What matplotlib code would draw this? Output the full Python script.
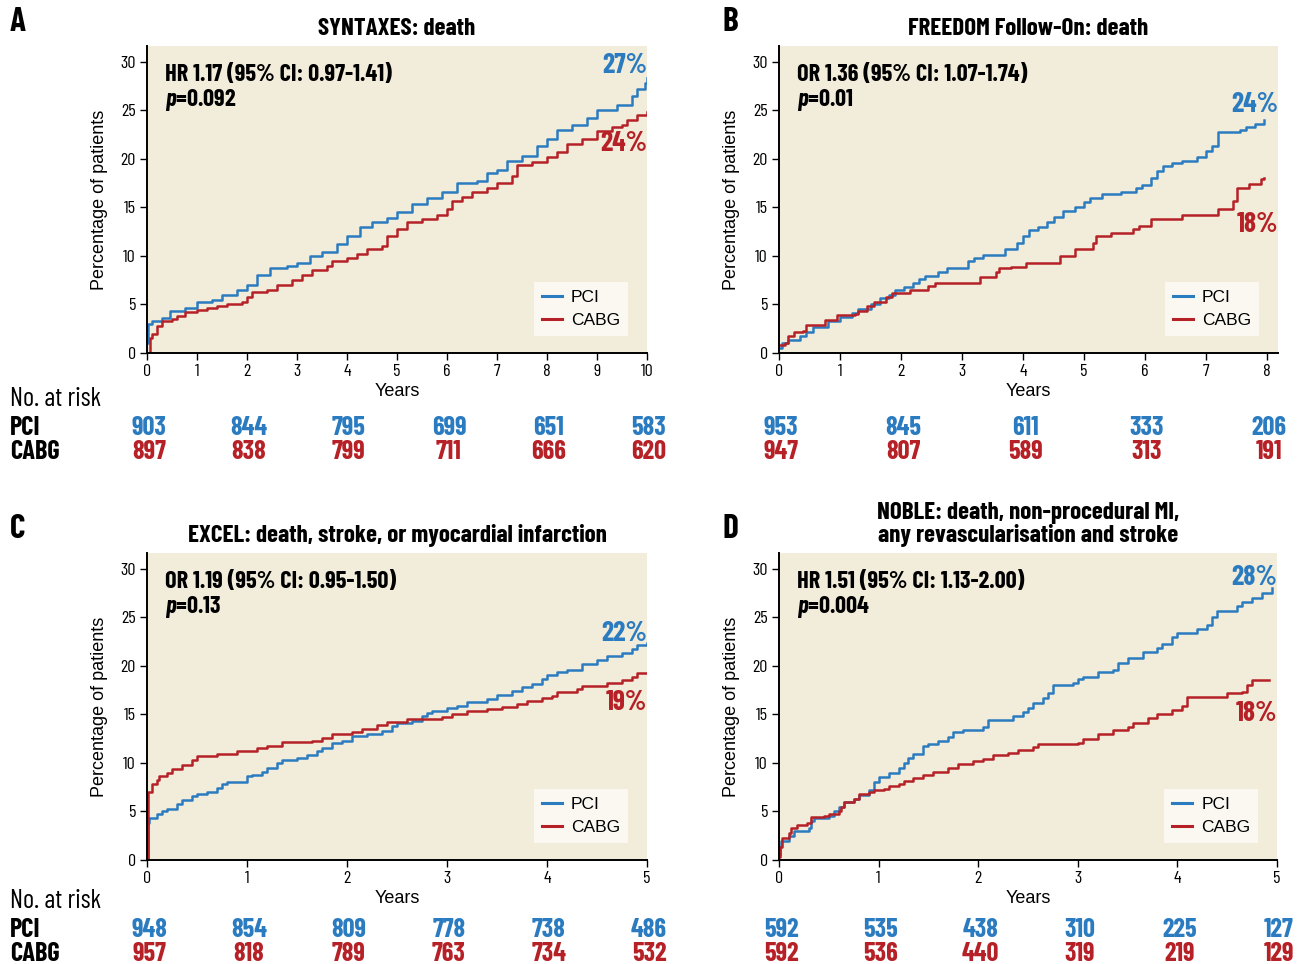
import matplotlib
matplotlib.use('Agg')
from matplotlib import pyplot as plt
from matplotlib.transforms import blended_transform_factory

# ---------- data ----------
# Panel A: SYNTAXES, death, 10 years
a_pci_t = [0, 0.02, 0.1, 0.3, 0.45, 0.75, 1.0, 1.3, 1.5, 1.8, 2.0, 2.2, 2.45, 2.8, 3.0, 3.25, 3.5, 3.8, 4.0,
           4.25, 4.5, 4.8, 5.0, 5.3, 5.6, 5.9, 6.2, 6.6, 6.8, 7.0, 7.2, 7.5, 7.8, 8.0, 8.2, 8.5, 8.8, 9.0,
           9.4, 9.7, 9.8, 9.95, 10.0]
a_pci_y = [1.0, 3.0, 3.3, 3.6, 4.3, 4.6, 5.3, 5.5, 6.0, 6.5, 7.0, 8.0, 8.8, 9.0, 9.3, 10.0, 10.4, 11.2, 12.0,
           13.0, 13.5, 13.9, 14.5, 15.3, 16.0, 16.6, 17.5, 17.7, 18.5, 18.8, 19.8, 20.3, 21.3, 22.0, 23.0, 23.5,
           24.2, 25.0, 25.5, 26.5, 27.2, 27.8, 28.3]
a_cabg_t = [0, 0.05, 0.1, 0.2, 0.3, 0.5, 0.6, 0.75, 1.0, 1.2, 1.4, 1.6, 1.9, 2.0, 2.1, 2.4, 2.6, 2.9, 3.1,
            3.3, 3.6, 3.7, 4.0, 4.2, 4.4, 4.7, 4.8, 5.0, 5.2, 5.5, 5.8, 6.0, 6.1, 6.3, 6.5, 6.8, 7.0, 7.3,
            7.4, 7.7, 8.0, 8.2, 8.4, 8.7, 9.0, 9.3, 9.5, 9.6, 9.8, 10.0]
a_cabg_y = [0, 1.5, 2.0, 2.8, 3.3, 3.5, 3.8, 4.2, 4.4, 4.6, 4.8, 5.0, 5.3, 5.8, 6.3, 6.5, 7.0, 7.5, 8.0,
            8.5, 9.0, 9.5, 9.8, 10.2, 10.7, 11.0, 12.0, 12.8, 13.5, 13.8, 14.2, 14.8, 15.6, 16.1, 16.6, 17.0,
            17.5, 18.2, 19.3, 19.7, 20.2, 20.7, 21.5, 22.0, 22.8, 23.3, 23.5, 24.0, 24.5, 24.8]

# Panel B: FREEDOM Follow-On, death, 8 years
b_pci_t = [0, 0.05, 0.15, 0.35, 0.45, 0.55, 0.8, 1.0, 1.2, 1.3, 1.5, 1.65, 1.8, 1.9, 2.05, 2.2, 2.3, 2.4,
           2.6, 2.75, 3.1, 3.2, 3.35, 3.7, 3.9, 4.0, 4.1, 4.25, 4.4, 4.5, 4.65, 4.85, 5.0, 5.1, 5.3, 5.6,
           5.85, 5.95, 6.1, 6.2, 6.3, 6.45, 6.6, 6.85, 7.0, 7.1, 7.2, 7.55, 7.65, 7.8, 7.95]
b_pci_y = [0.5, 1.0, 1.3, 1.8, 2.2, 2.7, 3.3, 3.7, 4.1, 4.5, 5.0, 5.7, 6.0, 6.5, 6.8, 7.2, 7.6, 7.9,
           8.3, 8.8, 9.5, 9.8, 10.1, 10.7, 11.3, 12.0, 12.7, 13.0, 13.5, 14.0, 14.6, 15.0, 15.5, 16.0, 16.4,
           16.6, 17.0, 17.3, 18.0, 18.7, 19.2, 19.6, 19.8, 20.2, 20.8, 21.3, 22.7, 23.0, 23.3, 23.6, 24.0]
b_cabg_t = [0, 0.1, 0.15, 0.25, 0.4, 0.45, 0.75, 0.95, 1.25, 1.3, 1.45, 1.55, 1.75, 1.85, 2.15, 2.45,
            2.55, 3.3, 3.55, 3.6, 3.8, 4.05, 4.6, 4.85, 5.15, 5.2, 5.45, 5.8, 5.9, 6.1, 6.6, 7.2, 7.45,
            7.5, 7.7, 7.9, 7.95]
b_cabg_y = [0.8, 1.0, 1.8, 2.2, 2.3, 2.9, 3.4, 3.9, 4.0, 4.3, 4.8, 5.2, 5.8, 6.2, 6.5, 6.9,
            7.2, 7.8, 8.3, 8.7, 8.9, 9.3, 10.0, 10.7, 11.3, 12.0, 12.4, 12.8, 13.1, 13.8, 14.2, 14.8, 15.6,
            17.0, 17.4, 17.9, 18.0]

# Panel C: EXCEL, death/stroke/MI, 5 years
c_pci_t = [0, 0.005, 0.02, 0.1, 0.15, 0.2, 0.3, 0.35, 0.45, 0.5, 0.6, 0.7, 0.75, 0.8, 1.0, 1.05, 1.15,
           1.2, 1.3, 1.35, 1.5, 1.6, 1.7, 1.75, 1.85, 1.95, 2.05, 2.2, 2.35, 2.45, 2.5, 2.65, 2.75, 2.8,
           2.85, 3.0, 3.1, 3.2, 3.4, 3.5, 3.65, 3.75, 3.85, 3.95, 4.0, 4.1, 4.2, 4.35, 4.5, 4.6, 4.75,
           4.85, 4.9, 5.0]
c_pci_y = [0, 3.8, 4.3, 4.7, 5.0, 5.3, 5.8, 6.2, 6.6, 6.8, 7.0, 7.4, 7.8, 8.0, 8.6, 8.8, 9.1,
           9.5, 10.0, 10.3, 10.5, 10.8, 11.2, 11.5, 12.0, 12.3, 12.8, 13.0, 13.3, 13.8, 14.1, 14.3, 14.8, 15.1,
           15.3, 15.6, 15.9, 16.3, 16.6, 17.0, 17.4, 17.8, 18.1, 18.6, 19.0, 19.3, 19.6, 20.2, 20.6, 21.0, 21.3,
           21.7, 22.1, 22.3]
c_cabg_t = [0, 0.005, 0.05, 0.1, 0.12, 0.2, 0.25, 0.35, 0.45, 0.5, 0.7, 0.9, 1.1, 1.2, 1.35, 1.65, 1.75,
            1.85, 2.05, 2.15, 2.3, 2.4, 2.6, 2.95, 3.05, 3.2, 3.4, 3.55, 3.7, 3.8, 3.95, 4.05, 4.1, 4.3,
            4.35, 4.6, 4.75, 4.85, 4.9, 5.0]
c_cabg_y = [0, 7.0, 7.8, 8.2, 8.6, 9.0, 9.4, 9.8, 10.3, 10.7, 10.9, 11.2, 11.5, 11.7, 12.1, 12.3, 12.6,
            13.0, 13.2, 13.5, 13.9, 14.2, 14.5, 14.7, 15.0, 15.3, 15.5, 15.8, 16.1, 16.4, 16.7, 16.9, 17.3, 17.6,
            17.9, 18.2, 18.5, 18.8, 19.2, 19.2]

# Panel D: NOBLE, MACCE, 5 years
d_pci_t = [0, 0.01, 0.02, 0.1, 0.15, 0.3, 0.32, 0.35, 0.5, 0.55, 0.6, 0.65, 0.75, 0.8, 0.9, 0.95, 1.0,
           1.1, 1.2, 1.25, 1.3, 1.35, 1.45, 1.5, 1.6, 1.7, 1.75, 1.85, 2.05, 2.1, 2.35, 2.45, 2.5, 2.55,
           2.65, 2.7, 2.75, 2.95, 3.0, 3.05, 3.2, 3.35, 3.4, 3.5, 3.65, 3.8, 3.85, 3.95, 4.0, 4.2, 4.3,
           4.35, 4.4, 4.6, 4.65, 4.75, 4.85, 4.95]
d_pci_y = [0.5, 1.3, 2.0, 2.5, 3.0, 3.3, 4.0, 4.3, 4.5, 5.0, 5.5, 6.0, 6.3, 6.7, 7.2, 8.0, 8.5,
           9.0, 9.5, 10.0, 10.5, 10.9, 11.7, 11.9, 12.3, 12.7, 13.2, 13.4, 13.7, 14.4, 14.8, 15.2, 15.6, 16.2,
           16.7, 17.2, 18.0, 18.2, 18.6, 18.8, 19.3, 19.6, 20.3, 20.8, 21.4, 21.8, 22.2, 23.0, 23.4, 23.8, 24.2,
           25.0, 25.6, 26.1, 26.6, 27.0, 27.5, 28.0]
d_cabg_t = [0, 0.01, 0.03, 0.1, 0.12, 0.18, 0.28, 0.32, 0.45, 0.5, 0.6, 0.62, 0.65, 0.75, 0.8, 0.9, 0.95,
            1.05, 1.1, 1.2, 1.25, 1.35, 1.45, 1.55, 1.7, 1.8, 1.95, 2.05, 2.15, 2.3, 2.4, 2.55, 2.6, 3.0,
            3.05, 3.2, 3.35, 3.5, 3.55, 3.7, 3.8, 3.95, 4.05, 4.1, 4.5, 4.65, 4.7, 4.75, 4.92]
d_cabg_y = [0.3, 1.3, 2.3, 2.8, 3.3, 3.6, 3.8, 4.4, 4.5, 4.7, 5.0, 5.5, 6.0, 6.3, 6.8, 7.0, 7.2,
            7.3, 7.6, 7.8, 8.1, 8.4, 8.8, 9.1, 9.5, 9.9, 10.2, 10.4, 10.8, 11.0, 11.3, 11.6, 11.9, 12.0,
            12.5, 13.0, 13.4, 13.7, 14.1, 14.6, 15.0, 15.4, 15.9, 16.8, 17.2, 17.3, 18.0, 18.5, 18.5]

letters = ['A', 'B', 'C', 'D']
titles = ['SYNTAXES: death', 'FREEDOM Follow-On: death',
          'EXCEL: death, stroke, or myocardial infarction',
          'NOBLE: death, non-procedural MI,\nany revascularisation and stroke']
stats = ['HR 1.17 (95% CI: 0.97-1.41)', 'OR 1.36 (95% CI: 1.07-1.74)',
         'OR 1.19 (95% CI: 0.95-1.50)', 'HR 1.51 (95% CI: 1.13-2.00)']
pvals = ['0.092', '0.01', '0.13', '0.004']
end_pci = ['27%', '24%', '22%', '28%']
end_cabg = ['24%', '18%', '19%', '18%']
end_pci_y = [29.6, 25.6, 23.3, 29.1]
end_cabg_y = [21.6, 13.2, 16.2, 15.1]
xmax = [10, 8.18, 5, 5]
xticks = [range(0, 11), range(0, 9), range(0, 6), range(0, 6)]
risk_t = [[0, 2, 4, 6, 8, 10], [0, 2, 4, 6, 8], [0, 1, 2, 3, 4, 5], [0, 1, 2, 3, 4, 5]]
risk_pci = [[903, 844, 795, 699, 651, 583], [953, 845, 611, 333, 206],
            [948, 854, 809, 778, 738, 486], [592, 535, 438, 310, 225, 127]]
risk_cabg = [[897, 838, 799, 711, 666, 620], [947, 807, 589, 313, 191],
             [957, 818, 789, 763, 734, 532], [592, 536, 440, 319, 219, 129]]
curves = [(a_pci_t, a_pci_y, a_cabg_t, a_cabg_y), (b_pci_t, b_pci_y, b_cabg_t, b_cabg_y),
          (c_pci_t, c_pci_y, c_cabg_t, c_cabg_y), (d_pci_t, d_pci_y, d_cabg_t, d_cabg_y)]

# ---------- style ----------
NARROW = ['Barlow Condensed', 'Roboto Condensed', 'Archivo Narrow', 'DejaVu Sans']
REG = ['Arimo', 'Liberation Sans', 'DejaVu Sans']
BLUE = '#2b7bc0'
RED = '#b52126'
BEIGE = '#f2eddb'
plt.rcParams['font.family'] = NARROW
plt.rcParams['mathtext.fontset'] = 'custom'
plt.rcParams['mathtext.it'] = 'Barlow Condensed:italic:bold'
plt.rcParams['mathtext.rm'] = 'Barlow Condensed:bold'

W, H = 1304, 964
fig = plt.figure(figsize=(W / 100, H / 100), dpi=100)

# axes boxes in pixels: left, top, right, bottom
boxes = [(147, 46, 647, 353), (779, 46, 1278, 353), (147, 553, 647, 860), (779, 553, 1277, 860)]

for i in range(4):
    l, t, r, b = boxes[i]
    ax = fig.add_axes([l / W, 1 - b / H, (r - l) / W, (b - t) / H])
    ax.set_facecolor(BEIGE)
    pt, py, ct, cy = curves[i]
    ax.plot(pt, py, drawstyle='steps-post', color=BLUE, lw=1.8, label='PCI')
    ax.plot(ct, cy, drawstyle='steps-post', color=RED, lw=1.8, label='CABG')
    ax.set_xlim(0, xmax[i])
    ax.set_ylim(0, 31.6)
    ax.set_xticks(list(xticks[i]))
    ax.set_yticks([0, 5, 10, 15, 20, 25, 30])
    for s in ['top', 'right']:
        ax.spines[s].set_visible(False)
    for s in ['left', 'bottom']:
        ax.spines[s].set_linewidth(1.4)
    ax.tick_params(direction='out', length=5, width=1, labelsize=13, pad=3)
    ax.set_ylabel('Percentage of patients', family=REG, fontsize=13, labelpad=9)
    ax.set_xlabel('Years', family=REG, fontsize=13, labelpad=3)
    ax.set_title(titles[i], fontsize=18, fontweight='bold', pad=8, linespacing=1.0)

    ax.text(0.036, 0.94, stats[i], transform=ax.transAxes, fontsize=17.5, fontweight='bold',
            va='top', ha='left')
    ax.text(0.036, 0.868, r'$p$=' + pvals[i], transform=ax.transAxes, fontsize=17.5, fontweight='bold',
            va='top', ha='left')
    ax.text(1.0, end_pci_y[i], end_pci[i], transform=blended_transform_factory(ax.transAxes, ax.transData),
            color=BLUE, fontsize=20, fontweight='bold', ha='right', va='center')
    ax.text(1.0, end_cabg_y[i], end_cabg[i], transform=blended_transform_factory(ax.transAxes, ax.transData),
            color=RED, fontsize=20, fontweight='bold', ha='right', va='center')

    leg = ax.legend(loc='lower right', bbox_to_anchor=(0.962, 0.055), frameon=True, fancybox=False,
                    prop={'family': REG, 'size': 12.5}, handlelength=1.2, handletextpad=0.5,
                    borderpad=0.45, labelspacing=0.45, borderaxespad=0)
    leg.get_frame().set_facecolor('#faf8f1')
    leg.get_frame().set_edgecolor('none')
    leg.get_frame().set_alpha(1)
    for ln in leg.get_lines():
        ln.set_linewidth(2.2)

    # panel letter
    fig.text((10 if i % 2 == 0 else 722) / W, 1 - (22 if i < 2 else 529) / H, letters[i],
             fontsize=24, fontweight='bold', va='center', ha='left')

    # numbers at risk
    tr = blended_transform_factory(ax.transData, fig.transFigure)
    row_pci = 428 if i < 2 else 930
    row_cabg = 452 if i < 2 else 954
    for x, n in zip(risk_t[i], risk_pci[i]):
        ax.text(x + 0.004 * xmax[i], 1 - row_pci / H, str(n), transform=tr, color=BLUE, fontsize=19,
                fontweight='bold', ha='center', va='center', clip_on=False)
    for x, n in zip(risk_t[i], risk_cabg[i]):
        ax.text(x + 0.004 * xmax[i], 1 - row_cabg / H, str(n), transform=tr, color=RED, fontsize=19,
                fontweight='bold', ha='center', va='center', clip_on=False)

for top in [0, 502]:
    fig.text(10 / W, 1 - (399 + top) / H, 'No. at risk', fontsize=19, va='center', ha='left')
    fig.text(10 / W, 1 - (428 + top) / H, 'PCI', fontsize=19, fontweight='bold', va='center', ha='left')
    fig.text(10 / W, 1 - (452 + top) / H, 'CABG', fontsize=19, fontweight='bold', va='center', ha='left')

fig.savefig('out.png', dpi=100)
